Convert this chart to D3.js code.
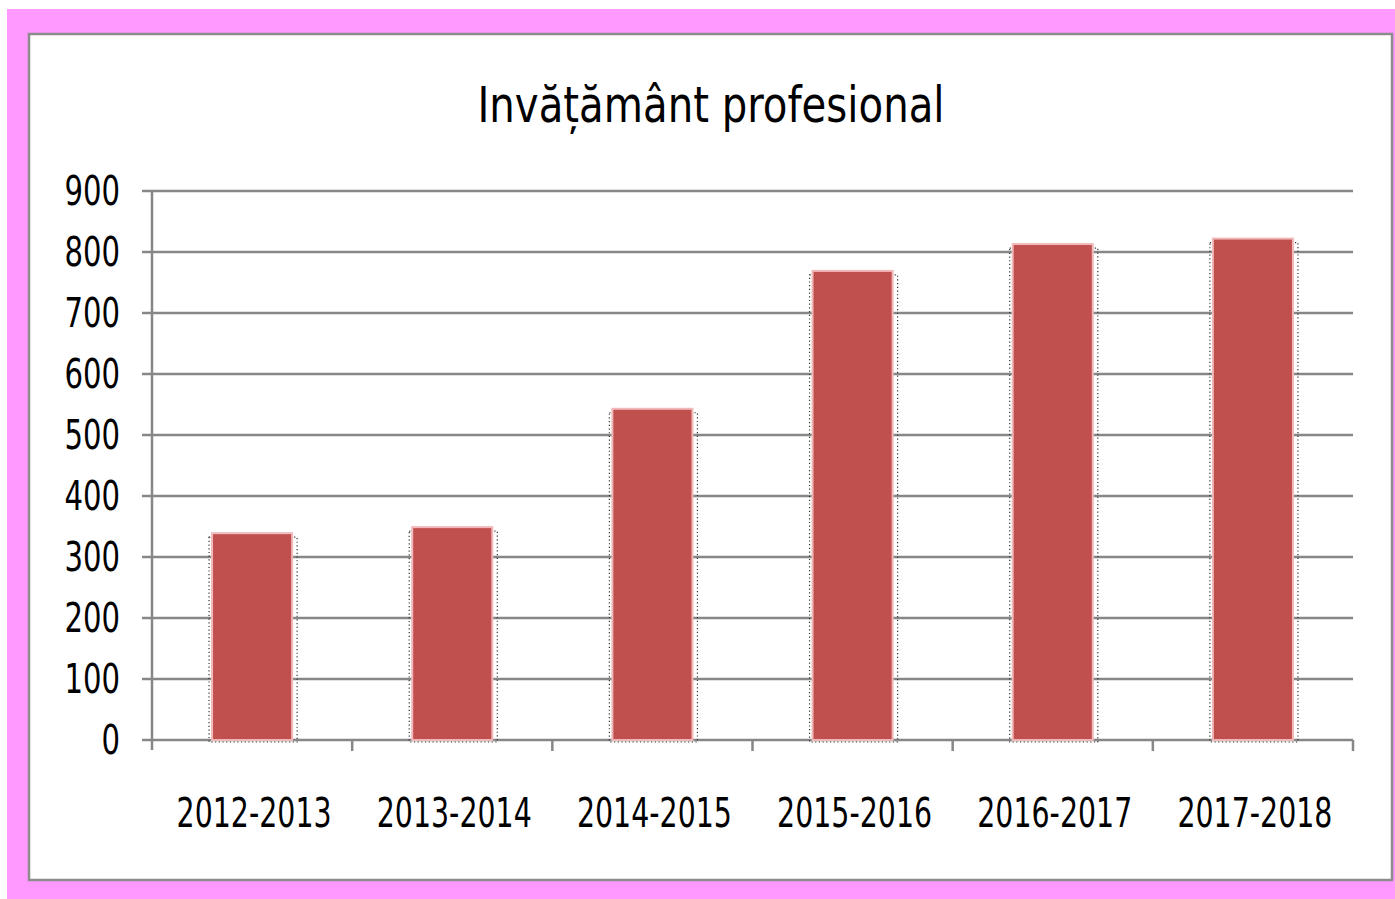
<!DOCTYPE html>
<html><head><meta charset="utf-8">
<script src="https://cdn.jsdelivr.net/npm/d3@7"></script>
<style>html,body{margin:0;padding:0;background:#fff;}svg{display:block;}</style>
</head><body>
<script>
const title = "Invățământ profesional";
const categories = ["2012-2013","2013-2014","2014-2015","2015-2016","2016-2017","2017-2018"];
const values = [339, 349, 543, 769, 813, 822];
const yTicks = [0,100,200,300,400,500,600,700,800,900];

const W = 1395, H = 899;
const svg = d3.select("body").append("svg").attr("width", W).attr("height", H);
const font = "'Liberation Sans Narrow','DejaVu Sans Condensed',sans-serif";

// pink frame
svg.append("rect").attr("x",7).attr("y",9).attr("width",W-7).attr("height",890).attr("fill","#ff99ff");
// white panel with grey border
svg.append("rect").attr("x",29).attr("y",34).attr("width",1363).attr("height",846)
  .attr("fill","#fff").attr("stroke","#8c8c8c").attr("stroke-width",2.5);

const x0 = 152, x1 = 1353, yTop = 191, yBot = 740;
const x = d3.scaleBand().domain(categories).range([x0, x1]).paddingInner(0).paddingOuter(0);
const y = d3.scaleLinear().domain([0, 900]).range([yBot, yTop]);

// gridlines
svg.append("g").selectAll("line").data(yTicks).join("line")
  .attr("x1", x0 - 10).attr("x2", x1).attr("y1", d => y(d)).attr("y2", d => y(d))
  .attr("stroke", "#878787").attr("stroke-width", 2.5);
// y axis line
svg.append("line").attr("x1", x0).attr("x2", x0).attr("y1", yTop).attr("y2", yBot + 10)
  .attr("stroke", "#878787").attr("stroke-width", 2.5);
// x category ticks
const bounds = categories.map(c => x(c)).concat([x1]);
svg.append("g").selectAll("line").data(bounds.slice(1)).join("line")
  .attr("x1", d => d).attr("x2", d => d).attr("y1", yBot).attr("y2", yBot + 11)
  .attr("stroke", "#878787").attr("stroke-width", 2.5);

// bars
const bw = x.bandwidth() * 0.4;
const bars = svg.append("g").selectAll("g").data(categories).join("g");
bars.append("rect")
  .attr("x", (d) => x(d) + x.bandwidth()/2 - bw/2 - 3)
  .attr("y", (d,i) => y(values[i]) + 4)
  .attr("width", bw + 8).attr("height", (d,i) => yBot - y(values[i]) - 2)
  .attr("fill", "none").attr("stroke", "#333").attr("stroke-width", 1.2)
  .attr("stroke-dasharray", "1.2,2.5");
bars.append("rect")
  .attr("x", (d) => x(d) + x.bandwidth()/2 - bw/2)
  .attr("y", (d,i) => y(values[i]))
  .attr("width", bw).attr("height", (d,i) => yBot - y(values[i]))
  .attr("fill", "#c0504d").attr("stroke", "#f0b8b8").attr("stroke-width", 2);

// y labels
svg.append("g").selectAll("text").data(yTicks).join("text")
  .attr("x", 120).attr("y", d => y(d)).attr("dy", "0.36em")
  .attr("text-anchor", "end").attr("font-family", font).attr("font-size", 40).attr("fill", "#000")
  .attr("textLength", d => String(d).length * 18.5).attr("lengthAdjust", "spacingAndGlyphs")
  .text(d => d);

// x labels
svg.append("g").selectAll("text").data(categories).join("text")
  .attr("x", d => x(d) + x.bandwidth()/2 + 2).attr("y", 827)
  .attr("text-anchor", "middle").attr("font-family", font).attr("font-size", 40).attr("fill", "#000")
  .attr("textLength", 155).attr("lengthAdjust", "spacingAndGlyphs")
  .text(d => d);

// title
svg.append("text").attr("x", 711).attr("y", 122).attr("text-anchor", "middle")
  .attr("font-family", font).attr("font-size", 50).attr("fill", "#000")
  .attr("textLength", 467).attr("lengthAdjust", "spacingAndGlyphs")
  .text(title);
</script>
</body></html>
